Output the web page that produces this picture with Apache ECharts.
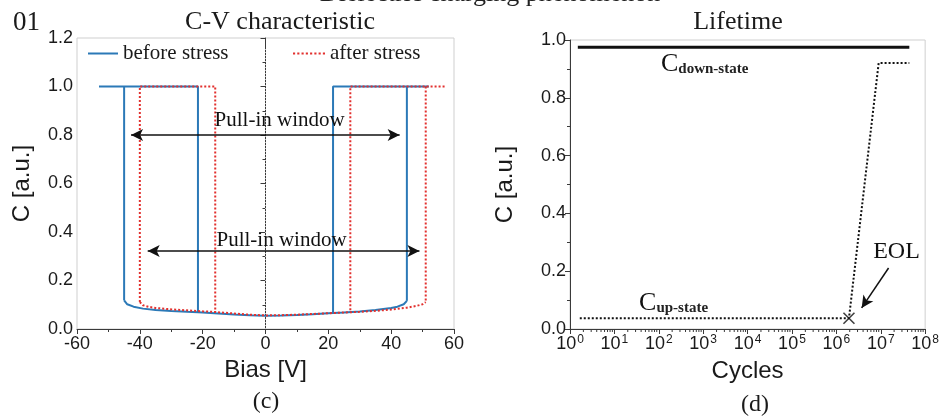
<!DOCTYPE html>
<html><head><meta charset="utf-8">
<script src="https://cdn.jsdelivr.net/npm/echarts@6/dist/echarts.min.js"></script>
<style>html,body{margin:0;padding:0;background:#fff}#c{width:942px;height:420px}</style>
</head><body><div id="c"></div><script>
// ---------- data: (c) C-V characteristic ----------
const beforeBottomBias = [-45,-44,-42,-39,-35,-30,-25,-21.5,-20,-15,-10,-5,0,5,10,15,20,21.5,25,30,35,40,42,44,45];
const beforeBottomC    = [0.118,0.102,0.092,0.084,0.078,0.074,0.071,0.069,0.068,0.064,0.060,0.057,0.055,0.056,0.058,0.061,0.065,0.066,0.068,0.072,0.078,0.087,0.092,0.102,0.116];
const beforeEdges = [
  [[-53,1],[-21.5,1],[-21.5,0.069]],
  [[-45,1],[-45,0.118]],
  [[52,1],[21.5,1],[21.5,0.066]],
  [[45,1],[45,0.116]]
];
const afterBottomBias = [-40,-39,-37,-35,-30,-25,-20,-16,-10,-5,0,5,10,15,20,25,27,30,35,40,45,48,50,51];
const afterBottomC    = [0.111,0.098,0.091,0.087,0.081,0.077,0.073,0.070,0.064,0.059,0.056,0.057,0.059,0.062,0.065,0.068,0.069,0.071,0.075,0.080,0.088,0.095,0.102,0.111];
const afterEdges = [
  [[-40,0.111],[-40,1],[-16,1],[-16,0.070]],
  [[57,1],[27,1],[27,0.069]],
  [[51,1],[51,0.111]]
];
const zeroLine = [[0,0],[0,1.16]];
const pullInOuter = [[-42.8,0.80],[42.7,0.80]];
const pullInInner = [[-37.5,0.322],[49.0,0.322]];
const biasTicks = [-60,60,20];
const capTicksC = [0,1.2,0.2];

// ---------- data: (d) Lifetime ----------
const cycDown = [1.5, 4.4e7];
const cDown   = [0.975, 0.975];
const cycUp   = [1.66, 1.92e6, 8.97e6, 4.4e7];
const cUp     = [0.037, 0.037, 0.92, 0.92];
const eolPoint = [1.92e6, 0.037];
const eolArrow = [[1.5e7,0.211],[3.71e6,0.073]];
const cycRange = [1, 1e8];
const capTicksD = [0,1.0,0.2];

const SERIF = 'Liberation Serif', SANS = 'Liberation Sans';
const minorLog = [];
for (let d = 0; d < 8; d++) for (let m = 2; m <= 9; m++) minorLog.push(m * Math.pow(10, d));

const zip = (a, b) => a.map((v, i) => [v, b[i]]);
const chart = echarts.init(document.getElementById('c'), null, {renderer: 'canvas'});

const axisLine = {show: true, lineStyle: {color: '#3a3a3a', width: 1}};
const tickLab = {color: '#1a1a1a', fontFamily: SANS, fontSize: 18};
const BLUE = '#2b79b7', RED = '#e2302e';

const series = [];
series.push({name: 'before stress', type: 'line', xAxisIndex: 0, yAxisIndex: 0, symbol: 'none',
  data: zip(beforeBottomBias, beforeBottomC), lineStyle: {color: BLUE, width: 2}, itemStyle: {color: BLUE}, z: 3});
beforeEdges.forEach(seg => series.push({name: 'before stress', type: 'line', xAxisIndex: 0, yAxisIndex: 0, symbol: 'none',
  data: seg, lineStyle: {color: BLUE, width: 2}, itemStyle: {color: BLUE}, z: 3}));
series.push({name: 'after stress', type: 'line', xAxisIndex: 0, yAxisIndex: 0, symbol: 'none',
  data: zip(afterBottomBias, afterBottomC), lineStyle: {color: RED, width: 2, type: [2, 2]}, itemStyle: {color: RED}, z: 4});
afterEdges.forEach(seg => series.push({name: 'after stress', type: 'line', xAxisIndex: 0, yAxisIndex: 0, symbol: 'none',
  data: seg, lineStyle: {color: RED, width: 2, type: [2, 2]}, itemStyle: {color: RED}, z: 4}));
series.push({type: 'line', xAxisIndex: 0, yAxisIndex: 0, symbol: 'none', data: zeroLine,
  lineStyle: {color: '#c4c4c4', width: 1, type: [1, 2]}, z: 1, silent: true,
  markLine: {silent: true, symbol: ['arrow', 'arrow'], symbolSize: [9, 12], animation: false,
    lineStyle: {color: '#111', width: 1.5, type: 'solid'}, label: {show: false},
    data: [[{coord: pullInOuter[0]}, {coord: pullInOuter[1]}], [{coord: pullInInner[0]}, {coord: pullInInner[1]}]]},
  markPoint: {silent: true, symbol: 'circle', symbolSize: 0, animation: false,
    label: {show: true, position: 'inside', color: '#111', fontFamily: SERIF, fontSize: 21},
    data: [{coord: [4.5, 0.858], label: {formatter: 'Pull-in window'}}, {coord: [5.1, 0.366], label: {formatter: 'Pull-in window'}}]}
});
series.push({type: 'line', xAxisIndex: 1, yAxisIndex: 1, symbol: 'none', data: zip(cycDown, cDown),
  lineStyle: {color: '#111', width: 3}, z: 3,
  markPoint: {silent: true, symbol: 'circle', symbolSize: 0, animation: false,
    label: {show: true, position: 'inside', align: 'left', color: '#111', fontFamily: SERIF,
      rich: {c: {fontSize: 26, fontFamily: SERIF, color: '#111'}, s: {fontSize: 15, fontWeight: 'bold', fontFamily: SERIF, color: '#222', padding: [10, 0, 0, 0]}}},
    data: [{coord: [112, 0.917], label: {formatter: '{c|C}{s|down-state}'}},
           {coord: [36, 0.09], label: {formatter: '{c|C}{s|up-state}'}},
           {coord: [2.26e7, 0.266], label: {formatter: 'EOL', fontSize: 24, align: 'center'}}]}
});
series.push({type: 'line', xAxisIndex: 1, yAxisIndex: 1, symbol: 'none', data: zip(cycUp, cUp),
  lineStyle: {color: '#111', width: 2, type: [2, 2]}, z: 3,
  markLine: {silent: true, symbol: ['none', 'arrow'], symbolSize: [9, 12], animation: false,
    lineStyle: {color: '#111', width: 1.5, type: 'solid'}, label: {show: false},
    data: [[{coord: eolArrow[0]}, {coord: eolArrow[1]}]]}
});
series.push({type: 'scatter', xAxisIndex: 1, yAxisIndex: 1, data: [eolPoint], symbol: 'path://M0,0L10,10M10,0L0,10',
  symbolSize: 11, itemStyle: {color: 'none', borderColor: '#111', borderWidth: 1.6}, z: 5, silent: true});
// minor log ticks of the cycles axis, drawn through the log scale
series.push({type: 'custom', xAxisIndex: 1, yAxisIndex: 1, silent: true, z: 6, clip: false,
  data: minorLog.map(v => [v, 0]),
  renderItem: (params, api) => {
    const p = api.coord([api.value(0), 0]);
    return {type: 'line', shape: {x1: p[0], y1: p[1], x2: p[0], y2: p[1] + 3}, style: {stroke: '#3a3a3a', lineWidth: 1}};
  }});

const dottedIcon = 'path://' + Array.from({length: 8}, (_, i) => 'M' + (i * 4) + ',6h2v2h-2z').join('');
const option = {
  animation: false,
  backgroundColor: '#fff',
  grid: [
    {left: 77, top: 38, width: 377, height: 291, show: true, borderColor: '#cfcfcf', borderWidth: 1},
    {left: 570, top: 40, width: 359, height: 289, show: true, borderColor: '#cfcfcf', borderWidth: 1}
  ],
  legend: [
    {left: 88, top: 43, padding: 0, itemWidth: 30, itemHeight: 14, itemGap: 5,
      data: [{name: 'before stress', icon: 'path://M0,6L30,6L30,8L0,8Z', itemStyle: {color: BLUE}}],
      textStyle: {fontFamily: SERIF, fontSize: 21, color: '#1a1a1a'}, selectedMode: false},
    {left: 293, top: 43, padding: 0, itemWidth: 32, itemHeight: 14, itemGap: 5,
      data: [{name: 'after stress', icon: dottedIcon, itemStyle: {color: RED}}],
      textStyle: {fontFamily: SERIF, fontSize: 21, color: '#1a1a1a'}, selectedMode: false}
  ],
  xAxis: [
    {type: 'value', gridIndex: 0, min: biasTicks[0], max: biasTicks[1], interval: biasTicks[2],
      axisLine, axisTick: {show: true, length: 5, lineStyle: {color: '#3a3a3a'}},
      minorTick: {show: true, splitNumber: 2, length: 3, lineStyle: {color: '#3a3a3a'}},
      splitLine: {show: false}, axisLabel: Object.assign({margin: 6}, tickLab),
      name: 'Bias [V]', nameLocation: 'middle', nameGap: 29, nameTextStyle: {fontFamily: SANS, fontSize: 24, color: '#1a1a1a'}},
    {type: 'log', gridIndex: 1, position: 'bottom', min: cycRange[0], max: cycRange[1], interval: 1, logBase: 10,
      axisLine, axisTick: {show: true, length: 5, lineStyle: {color: '#3a3a3a'}},
      splitLine: {show: false},
      axisLabel: {margin: 5, color: '#1a1a1a', fontFamily: SANS,
        formatter: v => '{b|10}{s|' + Math.round(Math.log10(v)) + '}',
        rich: {b: {fontSize: 18, fontFamily: SANS, color: '#1a1a1a'}, s: {fontSize: 12, fontFamily: SANS, color: '#1a1a1a', padding: [0, 0, 9, 1]}}},
      name: 'Cycles', nameLocation: 'middle', nameGap: 30, nameTextStyle: {fontFamily: SANS, fontSize: 24, color: '#1a1a1a'}}
  ],
  yAxis: [
    {type: 'value', gridIndex: 0, min: capTicksC[0], max: capTicksC[1], interval: capTicksC[2],
      axisLine, axisTick: {show: true, length: 5, lineStyle: {color: '#3a3a3a'}},
      minorTick: {show: true, splitNumber: 2, length: 3, lineStyle: {color: '#3a3a3a'}},
      splitLine: {show: false}, axisLabel: Object.assign({margin: 4, formatter: v => v.toFixed(1)}, tickLab),
      name: 'C [a.u.]', nameLocation: 'middle', nameGap: 43, nameTextStyle: {fontFamily: SANS, fontSize: 24, color: '#1a1a1a'}},
    {type: 'value', gridIndex: 1, min: capTicksD[0], max: capTicksD[1], interval: capTicksD[2],
      axisLine, axisTick: {show: true, length: 5, lineStyle: {color: '#3a3a3a'}},
      minorTick: {show: true, splitNumber: 2, length: 3, lineStyle: {color: '#3a3a3a'}},
      splitLine: {show: false}, axisLabel: Object.assign({margin: 4, formatter: v => v.toFixed(1)}, tickLab),
      name: 'C [a.u.]', nameLocation: 'middle', nameGap: 53, nameTextStyle: {fontFamily: SANS, fontSize: 24, color: '#1a1a1a'}}
  ],
  graphic: [
    {type: 'text', x: 490, y: 7, style: {text: 'Dielectric charging phenomenon', font: '26px "Liberation Serif"', fill: '#222', textAlign: 'center', textVerticalAlign: 'bottom'}},
    {type: 'text', x: 13, y: 23, style: {text: '01', font: '27px "Liberation Serif"', fill: '#1a1a1a', textAlign: 'left', textVerticalAlign: 'middle'}},
    {type: 'text', x: 280, y: 22, style: {text: 'C-V characteristic', font: '26px "Liberation Serif"', fill: '#1a1a1a', textAlign: 'center', textVerticalAlign: 'middle'}},
    {type: 'text', x: 738, y: 22, style: {text: 'Lifetime', font: '26px "Liberation Serif"', fill: '#1a1a1a', textAlign: 'center', textVerticalAlign: 'middle'}},
    {type: 'text', x: 266, y: 402, style: {text: '(c)', font: '24px "Liberation Serif"', fill: '#1a1a1a', textAlign: 'center', textVerticalAlign: 'middle'}},
    {type: 'text', x: 755, y: 405, style: {text: '(d)', font: '24px "Liberation Serif"', fill: '#1a1a1a', textAlign: 'center', textVerticalAlign: 'middle'}}
  ],
  series
};
chart.setOption(option);
</script></body></html>
